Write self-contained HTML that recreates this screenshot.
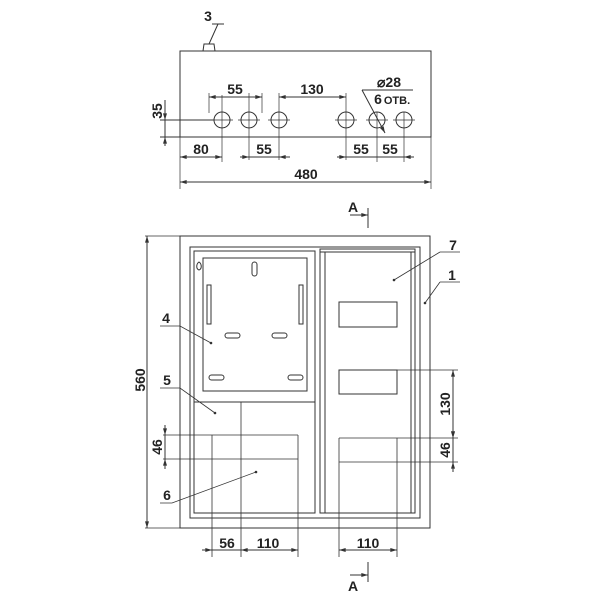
<!DOCTYPE html>
<html><head><meta charset="utf-8"><style>body{margin:0;background:#fff}svg{display:block}</style></head><body>
<svg width="600" height="600" viewBox="0 0 600 600" xmlns="http://www.w3.org/2000/svg">
<defs><marker id="a" viewBox="0 0 10 6" refX="10" refY="3" markerWidth="7" markerHeight="4" orient="auto-start-reverse"><path d="M0,0L10,3L0,6z" fill="#333"/></marker></defs>
<g stroke="#333" stroke-width="1" fill="none">
<!-- top view -->
<rect x="180" y="51" width="251" height="86"/>
<line x1="160" y1="120" x2="214" y2="120"/>
<line x1="160" y1="137" x2="180" y2="137"/>
<path d="M203,51 L204,44 L214,44 L215,51 M201,51h16"/>
<line x1="209" y1="44" x2="218" y2="24"/><line x1="212" y1="24" x2="224" y2="24"/>
<g>
<circle cx="222" cy="120" r="8"/><circle cx="249" cy="120" r="8"/><circle cx="279" cy="120" r="8"/>
<circle cx="346" cy="120" r="8"/><circle cx="377" cy="120" r="8"/><circle cx="404" cy="120" r="8"/>
</g>
<g stroke-width="0.7">
<path d="M222,95v67M249,93v67M279,93v67M346,93v67M377,112v50M404,112v50M209,93v20M262,93v20"/>
<path d="M211,120h22M238,120h22M268,120h22M335,120h22M366,120h22M393,120h22"/>
<path d="M180,137v52M431,137v52"/>
</g>
<line x1="209" y1="97" x2="262" y2="97" marker-start="url(#a)" marker-end="url(#a)"/>
<line x1="279" y1="97" x2="346" y2="97" marker-start="url(#a)" marker-end="url(#a)"/>
<line x1="180" y1="157" x2="222" y2="157" marker-start="url(#a)" marker-end="url(#a)"/>
<line x1="240" y1="157" x2="249" y2="157" marker-end="url(#a)"/><line x1="279" y1="157" x2="290" y2="157" marker-start="url(#a)"/><line x1="249" y1="157" x2="279" y2="157"/>
<line x1="337" y1="157" x2="346" y2="157" marker-end="url(#a)"/><line x1="346" y1="157" x2="404" y2="157"/><line x1="404" y1="157" x2="414" y2="157" marker-start="url(#a)"/>
<line x1="180" y1="182" x2="431" y2="182" marker-start="url(#a)" marker-end="url(#a)"/>
<line x1="165" y1="100" x2="165" y2="120" marker-end="url(#a)"/><line x1="165" y1="137" x2="165" y2="146" marker-start="url(#a)"/><line x1="165" y1="120" x2="165" y2="137"/>
<line x1="362" y1="90" x2="413" y2="90"/><line x1="362" y1="90" x2="385" y2="133" marker-end="url(#a)"/>
<!-- section marks -->
<path d="M368,208v20M368,562v20"/>
<line x1="350" y1="215" x2="368" y2="215" marker-end="url(#a)"/>
<line x1="350" y1="575" x2="368" y2="575" marker-end="url(#a)"/>
<!-- front view -->
<rect x="180" y="236" width="250" height="292"/>
<rect x="190" y="247" width="230" height="271"/>
<rect x="194" y="251" width="121" height="262"/>
<rect x="320" y="249" width="95" height="264"/>
<path d="M325,252v261M411,252v261M320,252h95"/>
<rect x="203" y="258" width="104" height="133"/>
<rect x="252" y="262" width="5" height="14" rx="2.5"/>
<rect x="207" y="285" width="4" height="39"/><rect x="299" y="285" width="4" height="39"/>
<rect x="225" y="333" width="15" height="5" rx="2.5"/><rect x="272" y="333" width="15" height="5" rx="2.5"/>
<rect x="209" y="375" width="15" height="5" rx="2.5"/><rect x="288" y="375" width="15" height="5" rx="2.5"/>
<path d="M199,262c-3,2 -3,7 0,8c3,-1 3,-6 0,-8z"/>
<line x1="194" y1="402" x2="315" y2="402"/>
<rect x="339" y="302" width="58" height="25"/>
<rect x="339" y="370" width="58" height="24"/>
<g stroke-width="0.8">
<path d="M241,402v155M212,435v122M298,435v122M163,435h135M163,459h135"/>
<path d="M397,370h61M339,438h119M339,462h119M339,438v119M397,438v119"/>
<path d="M145,236h35M145,528h35"/>
</g>
<line x1="147" y1="236" x2="147" y2="528" marker-start="url(#a)" marker-end="url(#a)"/>
<line x1="453" y1="370" x2="453" y2="438" marker-start="url(#a)" marker-end="url(#a)"/>
<line x1="453" y1="428" x2="453" y2="438" marker-end="url(#a)"/><line x1="453" y1="462" x2="453" y2="472" marker-start="url(#a)"/><line x1="453" y1="438" x2="453" y2="462"/>
<line x1="165" y1="425" x2="165" y2="435" marker-end="url(#a)"/><line x1="165" y1="459" x2="165" y2="469" marker-start="url(#a)"/><line x1="165" y1="435" x2="165" y2="459"/>
<line x1="202" y1="550" x2="212" y2="550" marker-end="url(#a)"/><line x1="212" y1="550" x2="241" y2="550"/>
<line x1="241" y1="550" x2="298" y2="550" marker-start="url(#a)" marker-end="url(#a)"/>
<line x1="339" y1="550" x2="397" y2="550" marker-start="url(#a)" marker-end="url(#a)"/>
<!-- leaders -->
<g stroke-width="0.8">
<path d="M440,252h20M440,252L394,280"/>
<path d="M440,282h20M440,282L425,303"/>
<path d="M160,326h20L211,343"/>
<path d="M160,388h20L215,413"/>
<path d="M160,503h12L256,472"/>
</g>
</g>
<g fill="#333"><circle cx="394" cy="280" r="1.3"/><circle cx="425" cy="303" r="1.3"/><circle cx="211" cy="343" r="1.3"/><circle cx="215" cy="413" r="1.3"/><circle cx="256" cy="472" r="1.3"/></g>
<g font-family="Liberation Sans, sans-serif" font-weight="bold" font-size="14" fill="#222" text-anchor="middle">
<text x="208" y="21">3</text>
<text x="235" y="94">55</text>
<text x="312" y="94">130</text>
<text x="201" y="154">80</text>
<text x="264" y="154">55</text>
<text x="361" y="154">55</text>
<text x="390" y="154">55</text>
<text x="306" y="179">480</text>
<text x="389" y="87">⌀28</text>
<text x="378" y="104">6</text><text x="397" y="104" font-size="11">ОТВ.</text>
<text transform="translate(162,111) rotate(-90)">35</text>
<text x="353" y="212">A</text>
<text x="353" y="591">A</text>
<text x="453" y="250">7</text>
<text x="452" y="280">1</text>
<text x="166" y="323">4</text>
<text x="167" y="385">5</text>
<text x="167" y="500">6</text>
<text transform="translate(145,380) rotate(-90)">560</text>
<text transform="translate(450,404) rotate(-90)">130</text>
<text transform="translate(450,450) rotate(-90)">46</text>
<text transform="translate(162,447) rotate(-90)">46</text>
<text x="227" y="548">56</text>
<text x="268" y="548">110</text>
<text x="368" y="548">110</text>
</g>
</svg>
</body></html>
